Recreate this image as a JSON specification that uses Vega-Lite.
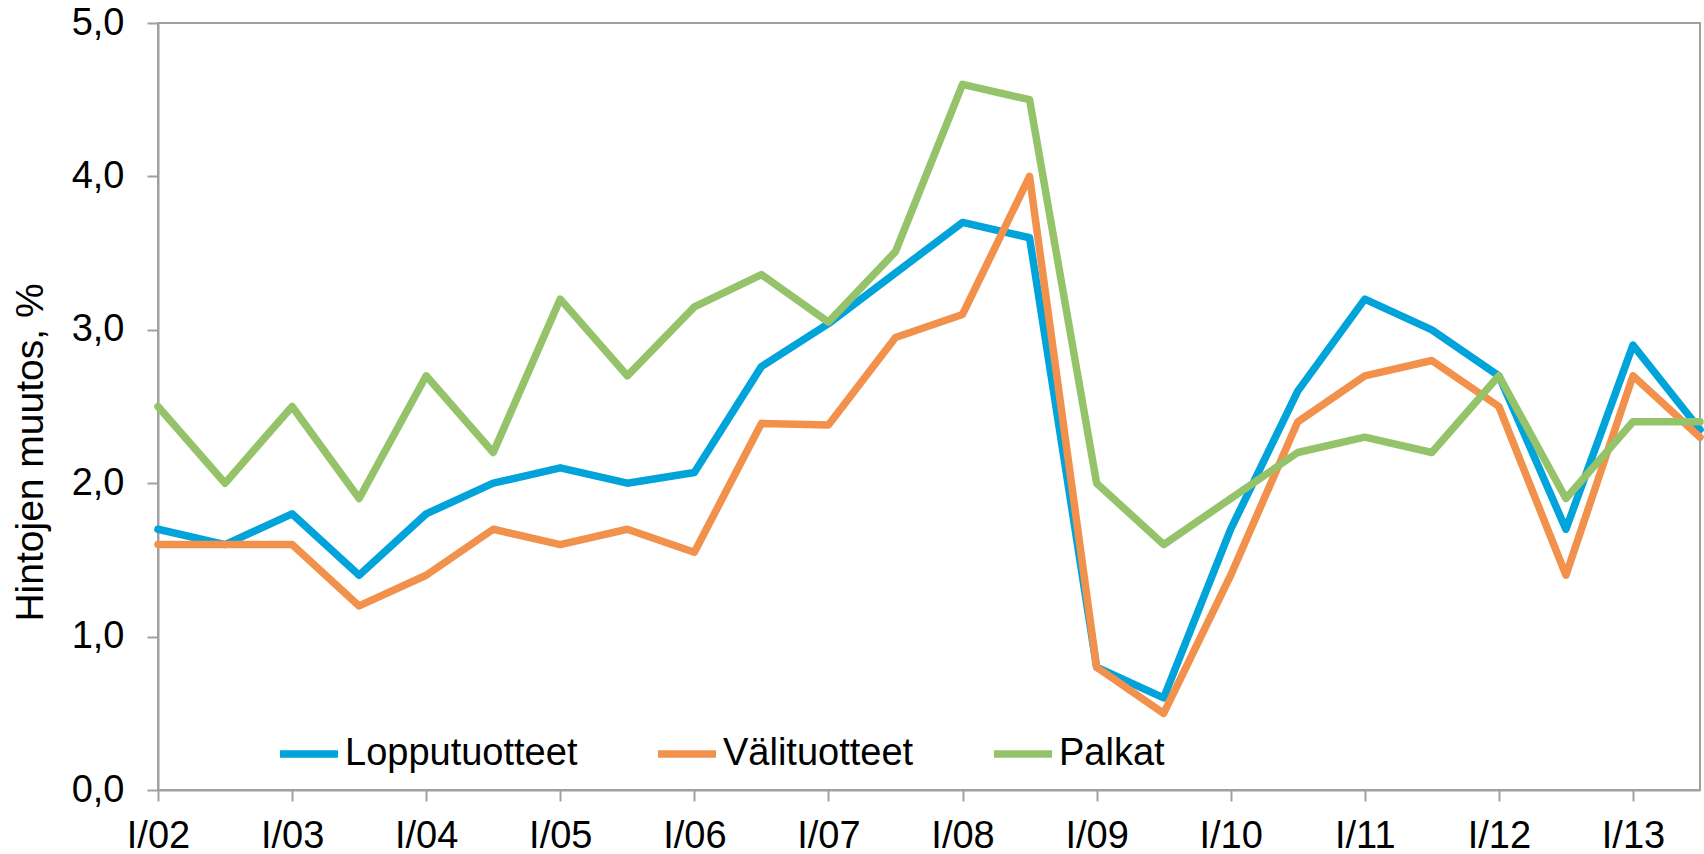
{
  "$schema": "https://vega.github.io/schema/vega-lite/v6.json",
  "width": 1542,
  "height": 767,
  "autosize": {"type": "none"},
  "padding": {"left": 158, "top": 23, "right": 4, "bottom": 64},
  "background": "white",
  "config": {
    "view": {"stroke": "#a0a0a0", "strokeWidth": 2},
    "font": "Liberation Sans"
  },
  "data": {
    "values": [
      {"period": "I/02", "sarja": "Lopputuotteet", "arvo": 1.7},
      {"period": "II/02", "sarja": "Lopputuotteet", "arvo": 1.6},
      {"period": "I/03", "sarja": "Lopputuotteet", "arvo": 1.8},
      {"period": "II/03", "sarja": "Lopputuotteet", "arvo": 1.4},
      {"period": "I/04", "sarja": "Lopputuotteet", "arvo": 1.8},
      {"period": "II/04", "sarja": "Lopputuotteet", "arvo": 2.0},
      {"period": "I/05", "sarja": "Lopputuotteet", "arvo": 2.1},
      {"period": "II/05", "sarja": "Lopputuotteet", "arvo": 2.0},
      {"period": "I/06", "sarja": "Lopputuotteet", "arvo": 2.07},
      {"period": "II/06", "sarja": "Lopputuotteet", "arvo": 2.76},
      {"period": "I/07", "sarja": "Lopputuotteet", "arvo": 3.04},
      {"period": "II/07", "sarja": "Lopputuotteet", "arvo": 3.37},
      {"period": "I/08", "sarja": "Lopputuotteet", "arvo": 3.7},
      {"period": "II/08", "sarja": "Lopputuotteet", "arvo": 3.6},
      {"period": "I/09", "sarja": "Lopputuotteet", "arvo": 0.8},
      {"period": "II/09", "sarja": "Lopputuotteet", "arvo": 0.6},
      {"period": "I/10", "sarja": "Lopputuotteet", "arvo": 1.7},
      {"period": "II/10", "sarja": "Lopputuotteet", "arvo": 2.6},
      {"period": "I/11", "sarja": "Lopputuotteet", "arvo": 3.2},
      {"period": "II/11", "sarja": "Lopputuotteet", "arvo": 3.0},
      {"period": "I/12", "sarja": "Lopputuotteet", "arvo": 2.7},
      {"period": "II/12", "sarja": "Lopputuotteet", "arvo": 1.7},
      {"period": "I/13", "sarja": "Lopputuotteet", "arvo": 2.9},
      {"period": "II/13", "sarja": "Lopputuotteet", "arvo": 2.35},
      {"period": "I/02", "sarja": "Välituotteet", "arvo": 1.6},
      {"period": "II/02", "sarja": "Välituotteet", "arvo": 1.6},
      {"period": "I/03", "sarja": "Välituotteet", "arvo": 1.6},
      {"period": "II/03", "sarja": "Välituotteet", "arvo": 1.2},
      {"period": "I/04", "sarja": "Välituotteet", "arvo": 1.4},
      {"period": "II/04", "sarja": "Välituotteet", "arvo": 1.7},
      {"period": "I/05", "sarja": "Välituotteet", "arvo": 1.6},
      {"period": "II/05", "sarja": "Välituotteet", "arvo": 1.7},
      {"period": "I/06", "sarja": "Välituotteet", "arvo": 1.55},
      {"period": "II/06", "sarja": "Välituotteet", "arvo": 2.39},
      {"period": "I/07", "sarja": "Välituotteet", "arvo": 2.38},
      {"period": "II/07", "sarja": "Välituotteet", "arvo": 2.95},
      {"period": "I/08", "sarja": "Välituotteet", "arvo": 3.1},
      {"period": "II/08", "sarja": "Välituotteet", "arvo": 4.0},
      {"period": "I/09", "sarja": "Välituotteet", "arvo": 0.8},
      {"period": "II/09", "sarja": "Välituotteet", "arvo": 0.5},
      {"period": "I/10", "sarja": "Välituotteet", "arvo": 1.4},
      {"period": "II/10", "sarja": "Välituotteet", "arvo": 2.4},
      {"period": "I/11", "sarja": "Välituotteet", "arvo": 2.7},
      {"period": "II/11", "sarja": "Välituotteet", "arvo": 2.8},
      {"period": "I/12", "sarja": "Välituotteet", "arvo": 2.5},
      {"period": "II/12", "sarja": "Välituotteet", "arvo": 1.4},
      {"period": "I/13", "sarja": "Välituotteet", "arvo": 2.7},
      {"period": "II/13", "sarja": "Välituotteet", "arvo": 2.3},
      {"period": "I/02", "sarja": "Palkat", "arvo": 2.5},
      {"period": "II/02", "sarja": "Palkat", "arvo": 2.0},
      {"period": "I/03", "sarja": "Palkat", "arvo": 2.5},
      {"period": "II/03", "sarja": "Palkat", "arvo": 1.9},
      {"period": "I/04", "sarja": "Palkat", "arvo": 2.7},
      {"period": "II/04", "sarja": "Palkat", "arvo": 2.2},
      {"period": "I/05", "sarja": "Palkat", "arvo": 3.2},
      {"period": "II/05", "sarja": "Palkat", "arvo": 2.7},
      {"period": "I/06", "sarja": "Palkat", "arvo": 3.15},
      {"period": "II/06", "sarja": "Palkat", "arvo": 3.36},
      {"period": "I/07", "sarja": "Palkat", "arvo": 3.05},
      {"period": "II/07", "sarja": "Palkat", "arvo": 3.51},
      {"period": "I/08", "sarja": "Palkat", "arvo": 4.6},
      {"period": "II/08", "sarja": "Palkat", "arvo": 4.5},
      {"period": "I/09", "sarja": "Palkat", "arvo": 2.0},
      {"period": "II/09", "sarja": "Palkat", "arvo": 1.6},
      {"period": "I/10", "sarja": "Palkat", "arvo": 1.9},
      {"period": "II/10", "sarja": "Palkat", "arvo": 2.2},
      {"period": "I/11", "sarja": "Palkat", "arvo": 2.3},
      {"period": "II/11", "sarja": "Palkat", "arvo": 2.2},
      {"period": "I/12", "sarja": "Palkat", "arvo": 2.7},
      {"period": "II/12", "sarja": "Palkat", "arvo": 1.9},
      {"period": "I/13", "sarja": "Palkat", "arvo": 2.4},
      {"period": "II/13", "sarja": "Palkat", "arvo": 2.4}
    ]
  },
  "mark": {"type": "line", "strokeWidth": 7.5, "strokeCap": "round", "strokeJoin": "round"},
  "encoding": {
    "x": {
      "field": "period",
      "type": "ordinal",
      "sort": null,
      "scale": {"type": "point", "padding": 0},
      "axis": {
        "values": ["I/02", "I/03", "I/04", "I/05", "I/06", "I/07", "I/08", "I/09", "I/10", "I/11", "I/12", "I/13"],
        "title": null,
        "labelAngle": 0,
        "labelFontSize": 38,
        "labelColor": "black",
        "labelPadding": 16,
        "labelFlush": false,
        "labelOverlap": false,
        "tickSize": 11,
        "tickWidth": 2,
        "tickColor": "#a0a0a0",
        "domainColor": "#a0a0a0",
        "domainWidth": 2,
        "grid": false
      }
    },
    "y": {
      "field": "arvo",
      "type": "quantitative",
      "scale": {"domain": [0, 5], "nice": false},
      "axis": {
        "values": [0, 1, 2, 3, 4, 5],
        "labelExpr": "replace(format(datum.value, '.1f'), '.', ',')",
        "labelFontSize": 38,
        "labelColor": "black",
        "labelPadding": 23,
        "labelFlush": false,
        "tickSize": 11,
        "tickWidth": 2,
        "tickColor": "#a0a0a0",
        "domainColor": "#a0a0a0",
        "domainWidth": 2,
        "grid": false,
        "title": "Hintojen muutos, %",
        "titleFontSize": 39,
        "titleFontWeight": "normal",
        "titleColor": "black",
        "titleAngle": -90,
        "titleAlign": "center",
        "titleBaseline": "alphabetic",
        "titleX": -116,
        "titleY": 429
      }
    },
    "color": {
      "field": "sarja",
      "type": "nominal",
      "sort": null,
      "scale": {
        "domain": ["Lopputuotteet", "Välituotteet", "Palkat"],
        "range": ["#00a3da", "#f1914b", "#94c36a"]
      },
      "legend": {
        "orient": "none",
        "legendX": 118,
        "legendY": 698,
        "direction": "horizontal",
        "title": null,
        "symbolType": "stroke",
        "symbolSize": 3364,
        "symbolStrokeWidth": 7.5,
        "labelFontSize": 38,
        "labelColor": "black",
        "labelOffset": 3,
        "labelLimit": 0,
        "columnPadding": 65,
        "padding": 0
      }
    }
  }
}
